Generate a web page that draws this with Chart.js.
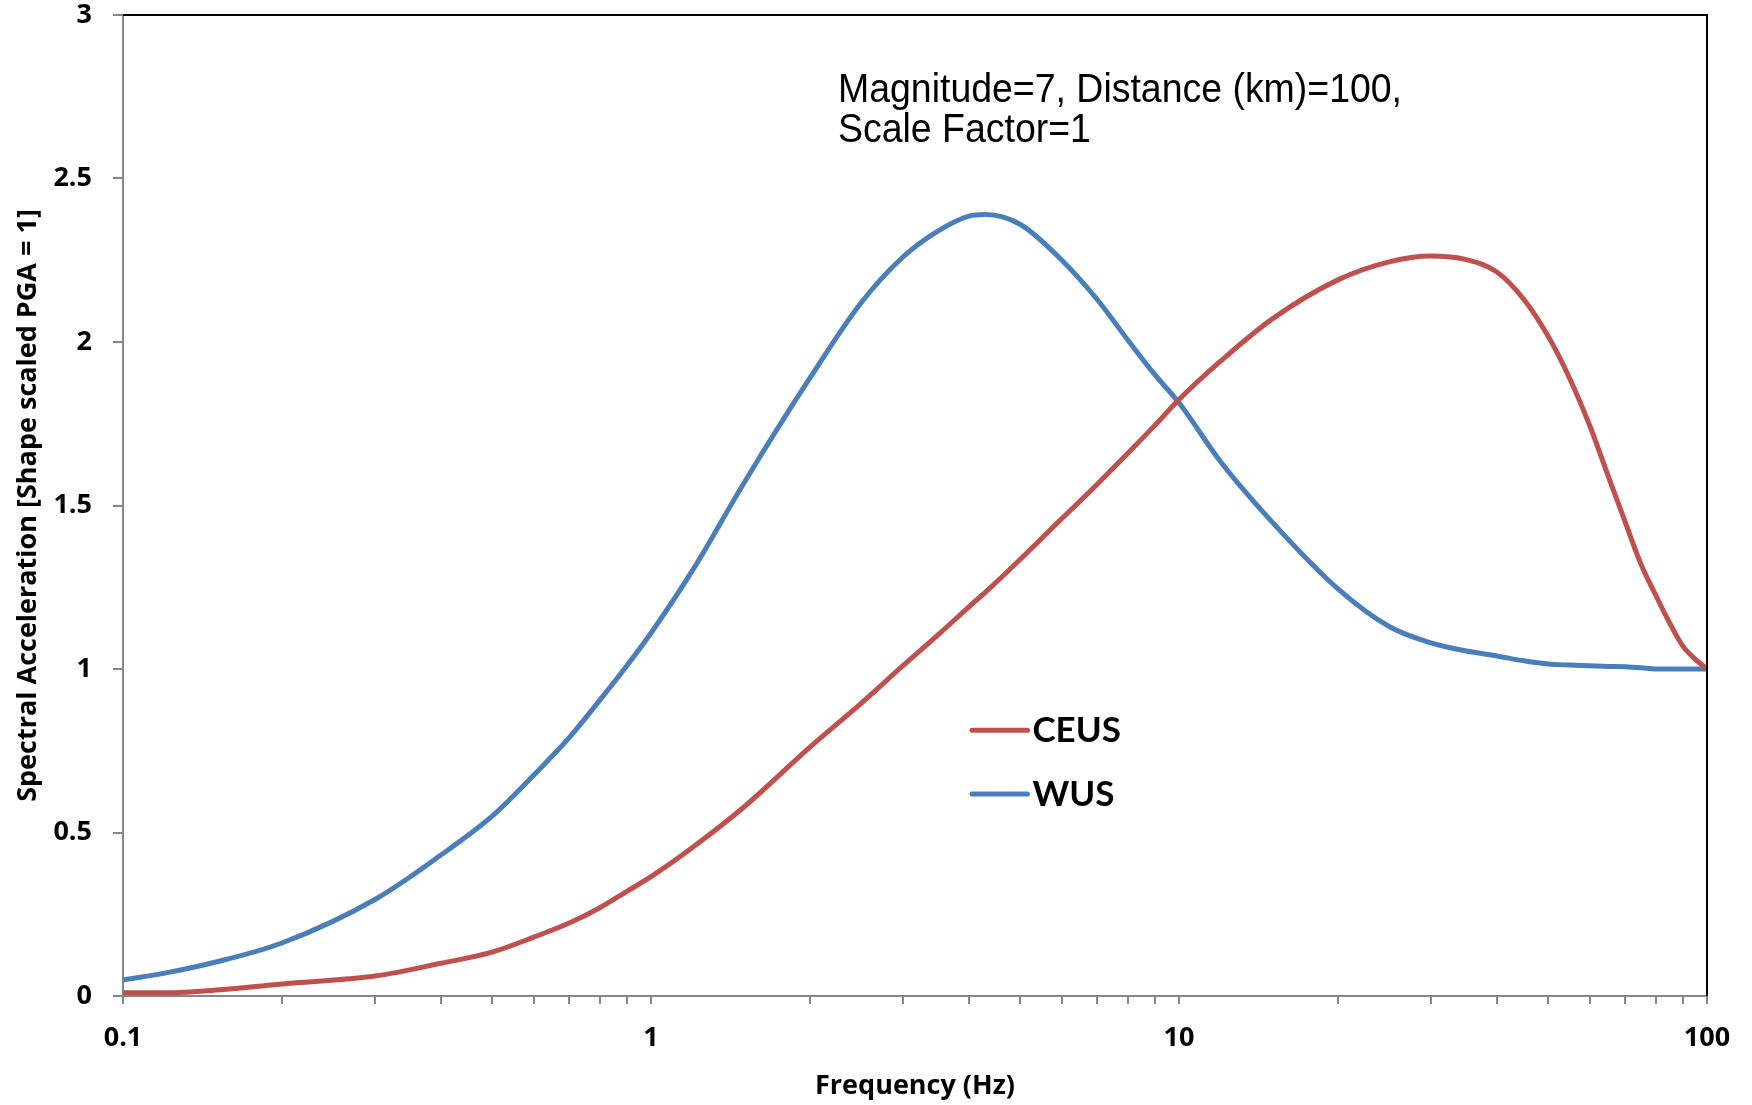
<!DOCTYPE html>
<html>
<head>
<meta charset="utf-8">
<script src="https://cdn.jsdelivr.net/npm/chart.js@4.4.1/dist/chart.umd.min.js"></script>
<style>
  html, body { margin: 0; padding: 0; background: #fff; }
  #wrap { width: 1752px; height: 1105px; }
</style>
</head>
<body>
<div id="wrap"><canvas id="myChart" width="1752" height="1105"></canvas></div>
<script>
// data
const freqs = [0.1, 0.12, 0.15, 0.2, 0.3, 0.4, 0.5, 0.6, 0.7, 0.8, 0.9, 1, 1.2, 1.5, 2, 2.5, 3, 3.5, 4, 4.3, 5, 6, 7, 8, 9, 10,
               12, 15, 20, 25, 30, 35, 40, 45, 50, 55, 60, 65, 70, 75, 80, 85, 90, 95, 100];
const ceusValues = [0.01, 0.01, 0.018, 0.037, 0.061, 0.10, 0.134, 0.18, 0.223, 0.27, 0.32, 0.365, 0.455, 0.578, 0.761, 0.895, 1.01, 1.105, 1.19, 1.235, 1.335, 1.46, 1.565, 1.66, 1.745, 1.824,
                    1.942, 2.07, 2.19, 2.245, 2.263, 2.252, 2.214, 2.13, 2.018, 1.887, 1.743, 1.59, 1.449, 1.32, 1.225, 1.14, 1.07, 1.03, 1.0];
const wusValues = [0.049, 0.07, 0.104, 0.162, 0.295, 0.431, 0.55, 0.676, 0.79, 0.905, 1.01, 1.11, 1.303, 1.569, 1.89, 2.12, 2.26, 2.34, 2.385, 2.39, 2.36, 2.25, 2.13, 2.006, 1.90, 1.814,
                   1.633, 1.45, 1.245, 1.13, 1.08, 1.055, 1.04, 1.025, 1.015, 1.012, 1.01, 1.008, 1.007, 1.004, 1.0, 1.0, 1.0, 1.0, 1.0];
const seriesNames = ['CEUS', 'WUS'];
const seriesColors = ['#C0504D', '#4A7EBB'];

// tick labels
const xDecades = [0.1, 1, 10, 100];
const xMinorSteps = [1, 2, 3, 4, 5, 6, 7, 8, 9];
const yTicks = [0, 0.5, 1, 1.5, 2, 2.5, 3];

const noteLines = ['Magnitude=7, Distance (km)=100,', 'Scale Factor=1'];

const axisGray = '#868686';

// 上と右の枠線
const frameLines = {
    id: 'frameLines',
    afterDraw(chart) {
        const { ctx, chartArea: { left, right, top, bottom } } = chart;
        ctx.save();
        ctx.strokeStyle = '#000';
        ctx.lineWidth = 2;
        ctx.beginPath();
        ctx.moveTo(left, top);
        ctx.lineTo(right, top);
        ctx.lineTo(right, bottom);
        ctx.stroke();
        ctx.restore();
    }
};

// 凡例（プロット内）
const innerLegend = {
    id: 'innerLegend',
    afterDraw(chart) {
        const { ctx, chartArea: { left, top, width, height } } = chart;
        const x1 = left + width * 0.536;
        const x2 = left + width * 0.571;
        const y0 = top + height * 0.729;
        const gap = height * 0.065;
        ctx.save();
        chart.data.datasets.forEach((ds, i) => {
            const y = y0 + gap * i;
            ctx.beginPath();
            ctx.strokeStyle = ds.borderColor;
            ctx.lineWidth = 5;
            ctx.lineCap = 'round';
            ctx.moveTo(x1, y);
            ctx.lineTo(x2, y);
            ctx.stroke();
            ctx.fillStyle = '#000';
            ctx.font = 'bold 35px Lato';
            ctx.textBaseline = 'middle';
            ctx.textAlign = 'left';
            ctx.fillText(ds.label, x2 + 5, y + 1);
        });
        ctx.restore();
    }
};

// 注記テキスト
const noteText = {
    id: 'noteText',
    afterDraw(chart) {
        const { ctx, chartArea: { left, top, width, height } } = chart;
        const x = left + width * 0.4514;
        ctx.save();
        ctx.fillStyle = '#000';
        ctx.font = '40px "Liberation Sans"';
        ctx.textBaseline = 'alphabetic';
        const w0 = ctx.measureText(noteLines[0]).width;
        const sx = 564 / w0;
        noteLines.forEach((t, i) => {
            ctx.save();
            ctx.translate(x, top + height * 0.0887 + i * 40);
            ctx.scale(sx, 1);
            ctx.fillText(t, 0, 0);
            ctx.restore();
        });
        ctx.restore();
    }
};

const data = {
    datasets: [
        { label: seriesNames[0], data: freqs.map((f, i) => ({ x: f, y: ceusValues[i] })), borderColor: seriesColors[0] },
        { label: seriesNames[1], data: freqs.map((f, i) => ({ x: f, y: wusValues[i] })), borderColor: seriesColors[1] }
    ]
};

const tickFont = { family: 'Open Sans', weight: 'bold', size: 27 };

const config = {
    type: 'line',
    data,
    options: {
        responsive: false,
        animation: false,
        layout: { padding: { left: 0, right: 45, top: 15, bottom: 0 } },
        elements: {
            line: { borderWidth: 5, cubicInterpolationMode: 'monotone', fill: false },
            point: { radius: 0 }
        },
        plugins: {
            legend: { display: false },
            tooltip: { enabled: false }
        },
        scales: {
            x: {
                type: 'logarithmic',
                min: 0.1,
                max: 100,
                afterBuildTicks(scale) {
                    const ticks = [];
                    xDecades.slice(0, -1).forEach(d => xMinorSteps.forEach(m => ticks.push({ value: +(d * m).toPrecision(3) })));
                    ticks.push({ value: xDecades[xDecades.length - 1] });
                    scale.ticks = ticks;
                },
                afterFit(scale) { scale.height = 109; },
                ticks: {
                    autoSkip: false,
                    maxRotation: 0,
                    color: '#000',
                    font: tickFont,
                    padding: 18,
                    callback(value) { return xDecades.includes(value) ? String(value) : ''; }
                },
                grid: { drawOnChartArea: false, drawTicks: true, tickLength: 8, color: axisGray, lineWidth: 2 },
                border: { color: axisGray, width: 2 },
                title: {
                    display: true,
                    text: 'Frequency (Hz)',
                    color: '#000',
                    font: { family: 'Open Sans', weight: 'bold', size: 27 },
                    padding: { top: 0, bottom: 2 }
                }
            },
            y: {
                type: 'linear',
                min: 0,
                max: 3,
                afterBuildTicks(scale) { scale.ticks = yTicks.map(v => ({ value: v })); },
                afterFit(scale) {
                    scale.width = 123;
                    scale.paddingTop = 0;
                    scale.paddingBottom = 0;
                },
                ticks: {
                    color: '#000',
                    font: tickFont,
                    padding: 21,
                    callback(value) { return String(value); }
                },
                grid: { drawOnChartArea: false, drawTicks: true, tickLength: 10, color: axisGray, lineWidth: 2 },
                border: { color: axisGray, width: 2 },
                title: {
                    display: true,
                    text: 'Spectral Acceleration [Shape scaled PGA = 1]',
                    color: '#000',
                    font: { family: 'Open Sans', weight: 'bold', size: 27 },
                    padding: { top: 12, bottom: 0 }
                }
            }
        }
    },
    plugins: [frameLines, innerLegend, noteText]
};

const myChart = new Chart(document.getElementById('myChart'), config);
</script>
</body>
</html>
